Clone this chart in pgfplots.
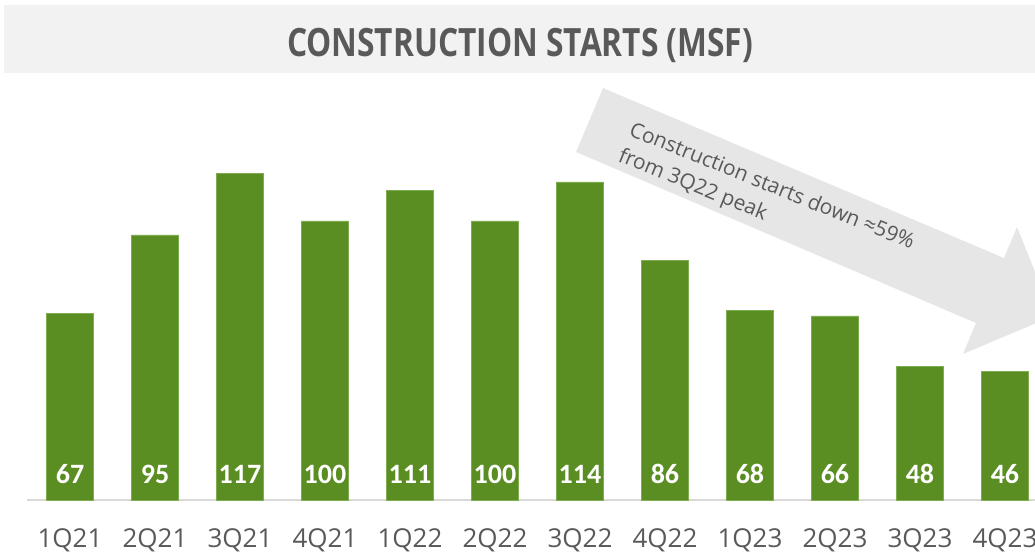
\documentclass[border=0pt]{standalone}
\usepackage{pgfplots}
\pgfplotsset{compat=1.18}
\usepackage{graphicx}
\usepackage{fontspec}
\setmainfont{Carlito}
\newfontfamily\opensans{Open Sans}
\definecolor{bargreen}{RGB}{91,142,34}
\definecolor{baredge}{RGB}{128,172,80}
\definecolor{txtgray}{RGB}{89,89,89}
\definecolor{banner}{RGB}{242,242,242}
\definecolor{arrowgray}{RGB}{230,230,230}
\definecolor{axgray}{RGB}{217,217,217}
\begin{document}
\begin{tikzpicture}[x=1pt,y=1pt]
\path[use as bounding box] (0,0) rectangle (1035,554);
\clip (0,0) rectangle (1035,554);
% title banner
\fill[banner] (4,481) rectangle (1035,549);
\node[text=txtgray, anchor=base, inner sep=0pt] at (520,497) {\resizebox{466pt}{\height}{\opensans\fontsize{39}{44}\selectfont\bfseries CONSTRUCTION STARTS (MSF)}};
% arrow annotation
\fill[arrowgray] (603,466) -- (1004,296) -- (1017,327) -- (1053,238) -- (963,200) -- (976,231) -- (576,402) -- cycle;
\node[text=txtgray, rotate=-22, anchor=base west, inner sep=0pt, font=\opensans\fontsize{21}{26}\selectfont] at (628,419) {Construction starts down ≈59\%};
\node[text=txtgray, rotate=-22, anchor=base west, inner sep=0pt, font=\opensans\fontsize{21}{26}\selectfont] at (617,393) {from 3Q22 peak};
\begin{axis}[
  at={(27.5pt,54pt)}, anchor=south west,
  scale only axis, width=1007.5pt, height=334.8pt,
  xmin=-0.5, xmax=11.353, ymin=0, ymax=120,
  axis x line*=bottom, axis y line=none,
  x axis line style={axgray, line width=1.5pt},
  xtick={0,...,11},
  xticklabels={1Q21,2Q21,3Q21,4Q21,1Q22,2Q22,3Q22,4Q22,1Q23,2Q23,3Q23,4Q23},
  major tick length=0pt,
  xticklabel style={anchor=base, yshift=-47pt, text=txtgray, font=\opensans\fontsize{26}{31}\selectfont},
  /pgf/number format/assume math mode=true,
  clip=false,
]
\addplot[ybar, bar width=47pt, fill=bargreen, draw=baredge, line width=0.6pt,
  visualization depends on={y \as \rawy},
  nodes near coords,
  every node near coord/.append style={shift={(axis direction cs:0,-\rawy)}, anchor=base, yshift=17pt, text=white, font=\fontsize{28}{34}\selectfont\bfseries, inner sep=0pt},
] coordinates {
(0,67) (1,95) (2,117) (3,100) (4,111) (5,100) (6,114) (7,86) (8,68) (9,66) (10,48) (11,46)
};
\end{axis}
\end{tikzpicture}
\end{document}
